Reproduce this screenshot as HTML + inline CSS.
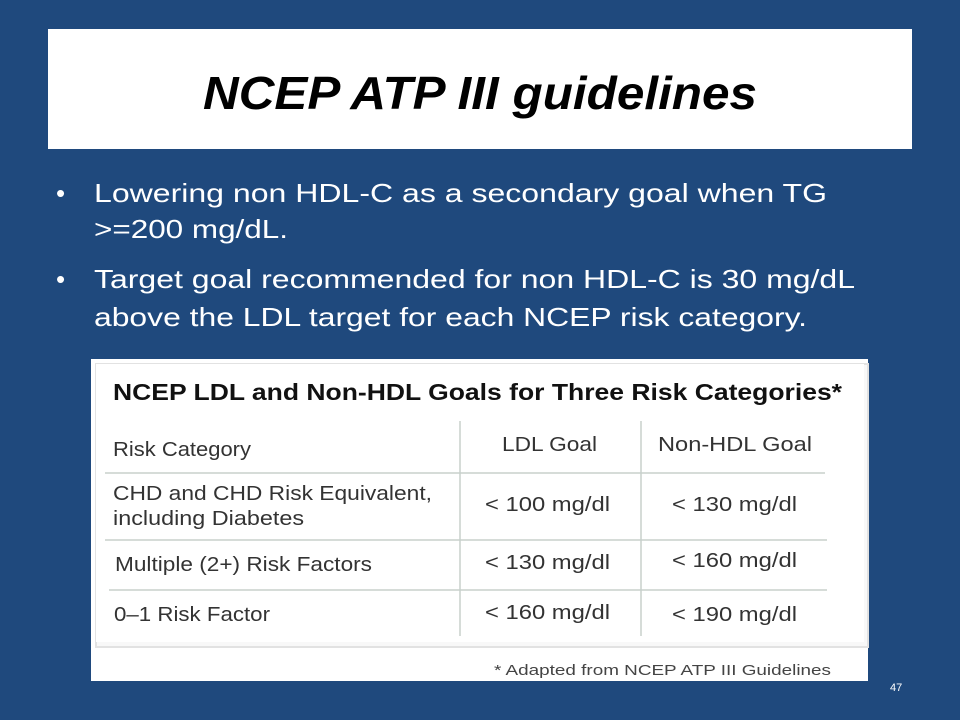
<!DOCTYPE html>
<html><head><meta charset="utf-8"><style>
html,body{margin:0;padding:0;}
body{width:960px;height:720px;background:#1f497d;position:relative;overflow:hidden;font-family:"Liberation Sans",sans-serif;}
</style></head><body>
<svg width="960" height="720" viewBox="0 0 960 720" xmlns="http://www.w3.org/2000/svg" style="position:absolute;left:0;top:0">
<rect x="0" y="0" width="960" height="720" fill="#1f497d"/>
<rect x="48" y="29" width="864" height="120" fill="#ffffff"/>
<text x="203" y="109" font-family="Liberation Sans, sans-serif" font-weight="bold" font-style="italic" font-size="46" textLength="554" lengthAdjust="spacingAndGlyphs" fill="#000">NCEP ATP III guidelines</text>
<g font-family="Liberation Sans, sans-serif" font-size="26" fill="#fff">
<text x="56" y="202">•</text>
<text x="94" y="202" textLength="733" lengthAdjust="spacingAndGlyphs">Lowering non HDL-C as a secondary goal when TG</text>
<text x="94" y="238" textLength="194" lengthAdjust="spacingAndGlyphs">&gt;=200 mg/dL.</text>
<text x="56" y="288">•</text>
<text x="94" y="288" textLength="761" lengthAdjust="spacingAndGlyphs">Target goal recommended for non HDL-C is 30 mg/dL</text>
<text x="94" y="326" textLength="713" lengthAdjust="spacingAndGlyphs">above the LDL target for each NCEP risk category.</text>
</g>
<g>
<rect x="91" y="359" width="777" height="322" fill="#ffffff"/>
<rect x="96" y="364" width="772" height="283" fill="#f8f8f8" stroke="#e2e2e2" stroke-width="2"/>
<rect x="96" y="364" width="768" height="278" fill="#ffffff"/>
<text x="113" y="400" font-family="Liberation Sans Narrow, Liberation Sans, sans-serif" font-weight="bold" font-size="23" textLength="729" lengthAdjust="spacingAndGlyphs" fill="#111">NCEP LDL and Non-HDL Goals for Three Risk Categories*</text>
<g stroke="#c8d0cc" stroke-width="1.5">
<line x1="460" y1="421" x2="460" y2="636"/>
<line x1="641" y1="421" x2="641" y2="636"/>
<line x1="105" y1="473" x2="825" y2="473"/>
<line x1="105" y1="540" x2="827" y2="540"/>
<line x1="109" y1="590" x2="827" y2="590"/>
</g>
<g font-family="Liberation Sans Narrow, Liberation Sans, sans-serif" font-size="20" fill="#333">
<text x="113" y="456" textLength="138" lengthAdjust="spacingAndGlyphs">Risk Category</text>
<text x="502" y="451" textLength="95" lengthAdjust="spacingAndGlyphs">LDL Goal</text>
<text x="658" y="451" textLength="154" lengthAdjust="spacingAndGlyphs">Non-HDL Goal</text>
<text x="113" y="500" textLength="319" lengthAdjust="spacingAndGlyphs">CHD and CHD Risk Equivalent,</text>
<text x="113" y="525" textLength="191" lengthAdjust="spacingAndGlyphs">including Diabetes</text>
<text x="485" y="511" textLength="125" lengthAdjust="spacingAndGlyphs">&lt; 100 mg/dl</text>
<text x="672" y="511" textLength="125" lengthAdjust="spacingAndGlyphs">&lt; 130 mg/dl</text>
<text x="115" y="571" textLength="257" lengthAdjust="spacingAndGlyphs">Multiple (2+) Risk Factors</text>
<text x="485" y="569" textLength="125" lengthAdjust="spacingAndGlyphs">&lt; 130 mg/dl</text>
<text x="672" y="567" textLength="125" lengthAdjust="spacingAndGlyphs">&lt; 160 mg/dl</text>
<text x="114" y="621" textLength="156" lengthAdjust="spacingAndGlyphs">0–1 Risk Factor</text>
<text x="485" y="619" textLength="125" lengthAdjust="spacingAndGlyphs">&lt; 160 mg/dl</text>
<text x="672" y="621" textLength="125" lengthAdjust="spacingAndGlyphs">&lt; 190 mg/dl</text>
</g>
<text x="494" y="675" font-family="Liberation Sans Narrow, Liberation Sans, sans-serif" font-size="15" fill="#444" textLength="337" lengthAdjust="spacingAndGlyphs">* Adapted from NCEP ATP III Guidelines</text>
</g>
<text x="890" y="691" font-family="Liberation Sans, sans-serif" font-size="11" fill="#fff">47</text>
</svg>
</body></html>
